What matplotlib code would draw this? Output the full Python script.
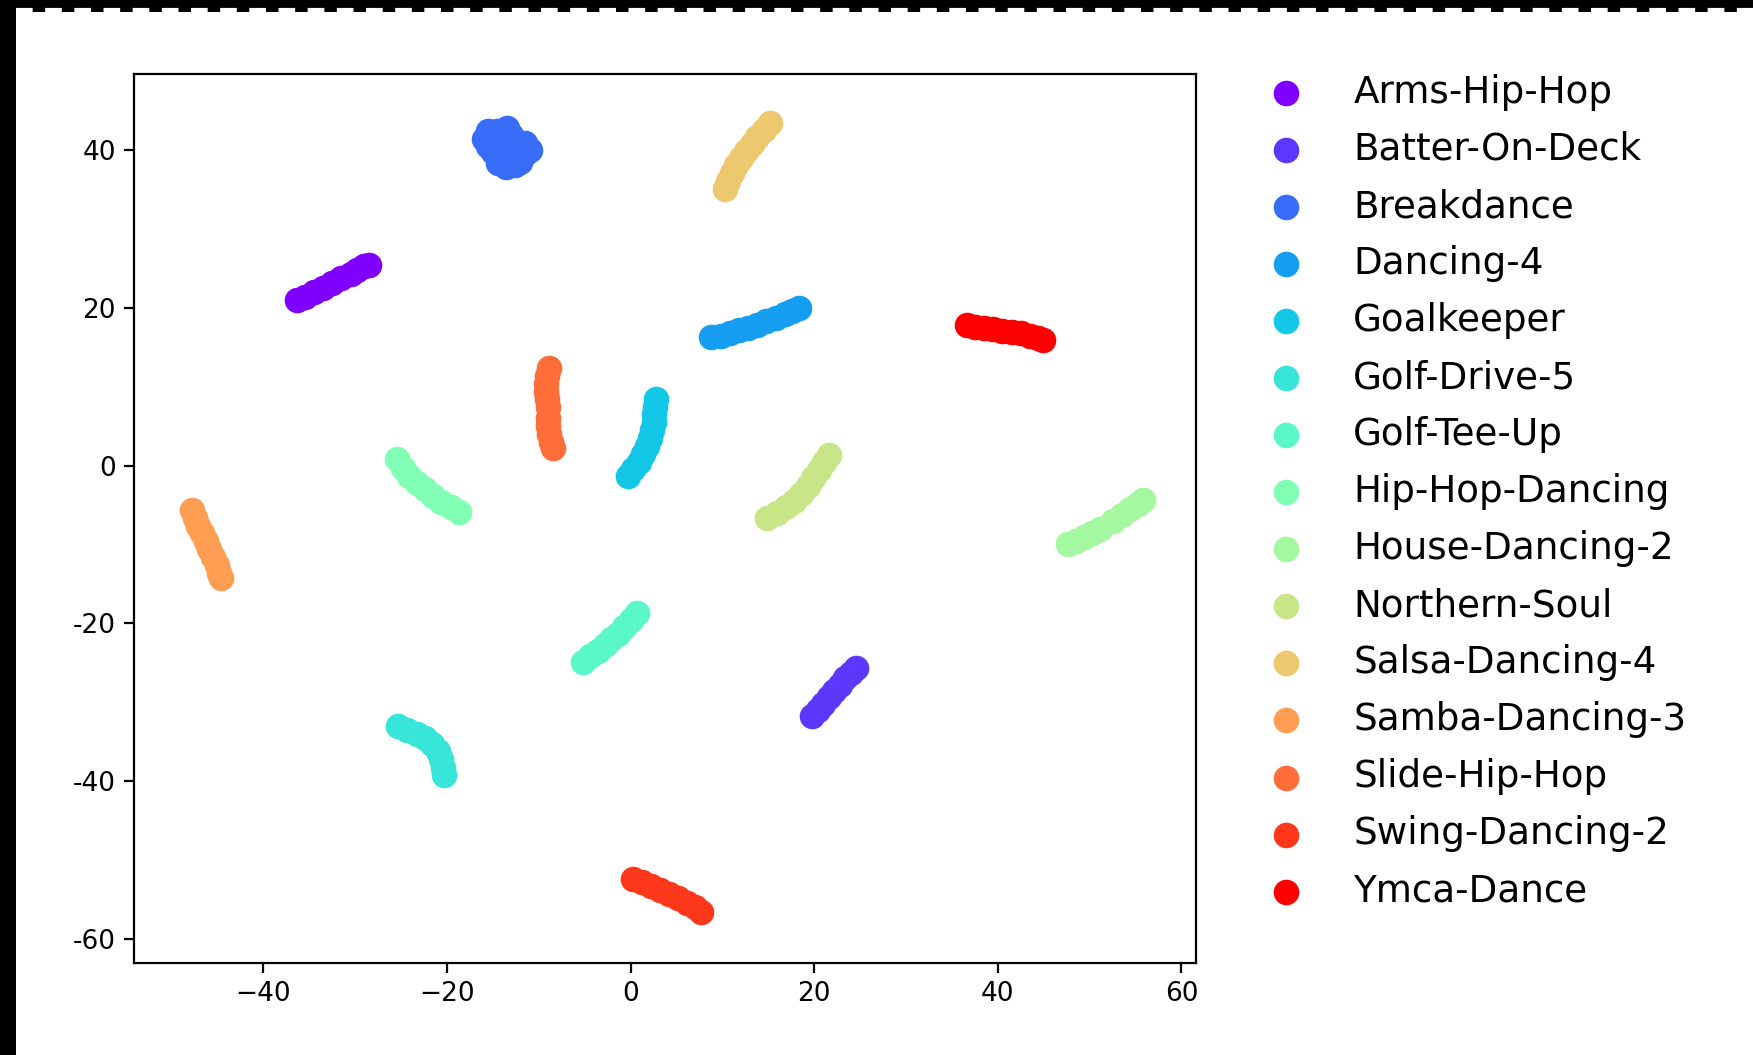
import numpy as np
import matplotlib
matplotlib.use('Agg')
import matplotlib.pyplot as plt
from matplotlib.patches import Rectangle

# --- data: embedded 2-D points per class ---
labels = ['Arms-Hip-Hop', 'Batter-On-Deck', 'Breakdance', 'Dancing-4', 'Goalkeeper',
          'Golf-Drive-5', 'Golf-Tee-Up', 'Hip-Hop-Dancing', 'House-Dancing-2',
          'Northern-Soul', 'Salsa-Dancing-4', 'Samba-Dancing-3', 'Slide-Hip-Hop',
          'Swing-Dancing-2', 'Ymca-Dance']

arms_x = [-36.3, -35.5, -34.5, -33.5, -32.5, -31.5, -30.5, -29.8, -29.0, -28.5]
arms_y = [21.0, 21.4, 22.0, 22.6, 23.2, 23.8, 24.3, 24.8, 25.3, 25.5]

batter_x = [19.8, 20.4, 21.0, 21.6, 22.2, 22.8, 23.4, 24.0, 24.6]
batter_y = [-31.8, -31.0, -30.2, -29.4, -28.6, -27.8, -27.0, -26.3, -25.7]

breakdance_x = [-16.0, -15.5, -15.0, -14.5, -14.0, -13.5, -13.0, -13.0, -12.5, -12.0,
                -11.5, -11.0, -14.5, -15.5, -12.0, -14.0, -13.0, -14.0, -12.5, -15.0,
                -11.5, -13.5, -13.6, -12.6, -14.4]
breakdance_y = [41.5, 42.5, 41.0, 42.5, 40.0, 41.5, 39.0, 42.0, 40.5, 38.5,
                39.5, 40.0, 39.5, 40.5, 41.0, 38.5, 40.5, 41.0, 39.5, 39.8,
                41.0, 42.8, 37.9, 38.1, 38.4]

dancing4_x = [8.8, 9.8, 10.8, 11.8, 12.8, 13.8, 14.8, 15.8, 16.8, 17.6, 18.3]
dancing4_y = [16.3, 16.5, 16.8, 17.2, 17.5, 17.9, 18.3, 18.7, 19.2, 19.6, 20.0]

goalkeeper_x = [-0.3, 0.3, 0.9, 1.4, 1.8, 2.1, 2.3, 2.5, 2.6, 2.7, 2.8]
goalkeeper_y = [-1.3, -0.4, 0.5, 1.5, 2.5, 3.5, 4.5, 5.5, 6.5, 7.5, 8.5]

golfdrive_x = [-25.3, -24.3, -23.3, -22.4, -21.6, -21.0, -20.6, -20.4, -20.3]
golfdrive_y = [-33.0, -33.5, -34.0, -34.6, -35.3, -36.2, -37.2, -38.3, -39.3]

golftee_x = [-5.2, -4.4, -3.6, -2.8, -2.1, -1.4, -0.7, 0.0, 0.7]
golftee_y = [-24.9, -24.2, -23.5, -22.7, -22.0, -21.3, -20.5, -19.6, -18.7]

hiphop_x = [-25.4, -24.8, -24.1, -23.3, -22.4, -21.5, -20.6, -19.6, -18.7]
hiphop_y = [0.8, -0.3, -1.3, -2.2, -3.0, -3.8, -4.6, -5.3, -5.9]

house_x = [47.6, 48.5, 49.4, 50.3, 51.1, 52.6, 53.5, 54.4, 55.3, 55.8]
house_y = [-10.0, -9.6, -9.1, -8.6, -8.0, -7.0, -6.3, -5.5, -4.8, -4.4]

northern_x = [14.9, 15.9, 16.9, 17.8, 18.6, 19.3, 19.9, 20.5, 21.1, 21.6]
northern_y = [-6.6, -6.0, -5.3, -4.5, -3.6, -2.6, -1.6, -0.5, 0.5, 1.4]

salsa_x = [10.3, 10.6, 11.0, 11.5, 12.0, 12.6, 13.2, 13.8, 14.5, 15.2]
salsa_y = [35.1, 36.1, 37.1, 38.1, 39.0, 39.9, 40.8, 41.7, 42.6, 43.5]

samba_x = [-47.8, -47.5, -47.1, -46.7, -46.3, -45.9, -45.5, -45.1, -44.8, -44.6]
samba_y = [-5.6, -6.6, -7.6, -8.6, -9.6, -10.6, -11.6, -12.6, -13.6, -14.3]

slide_x = [-8.9, -9.1, -9.2, -9.2, -9.1, -9.0, -9.0, -9.0, -8.9, -8.7, -8.5]
slide_y = [12.4, 11.4, 10.4, 9.4, 8.4, 7.4, 6.0, 5.0, 4.0, 3.0, 2.3]

swing_x = [0.3, 1.2, 2.2, 3.2, 4.2, 5.2, 6.2, 7.0, 7.7]
swing_y = [-52.4, -52.8, -53.3, -53.8, -54.3, -54.9, -55.5, -56.0, -56.6]

ymca_x = [36.6, 37.5, 38.5, 39.5, 40.5, 41.5, 42.5, 43.5, 44.4, 44.9]
ymca_y = [17.8, 17.6, 17.5, 17.3, 17.1, 17.0, 16.8, 16.5, 16.2, 16.0]

xs = [arms_x, batter_x, breakdance_x, dancing4_x, goalkeeper_x, golfdrive_x, golftee_x,
      hiphop_x, house_x, northern_x, salsa_x, samba_x, slide_x, swing_x, ymca_x]
ys = [arms_y, batter_y, breakdance_y, dancing4_y, goalkeeper_y, golfdrive_y, golftee_y,
      hiphop_y, house_y, northern_y, salsa_y, samba_y, slide_y, swing_y, ymca_y]

yticks = [40, 20, 0, -20, -40, -60]
ytick_labels = ['40', '20', '0', '-20', '-40', '-60']

# --- figure ---
fig = plt.figure(figsize=(17.53, 10.55), dpi=100, facecolor='black')
# white canvas inside the black frame
fig.patches.append(Rectangle((16 / 1753, 0), 1, 1 - 12 / 1055, transform=fig.transFigure,
                             facecolor='white', edgecolor='none', zorder=-10))
fig.lines.append(plt.Line2D([16 / 1753, 1], [1 - 10 / 1055, 1 - 10 / 1055], transform=fig.transFigure,
                            color='white', lw=3, ls=(0, (4, 3))))

ax = fig.add_axes([0.0764, 0.0872, 0.6059, 0.8427])

colors = plt.cm.rainbow(np.linspace(0, 1, len(labels)))
for x, y, c, lab in zip(xs, ys, colors, labels):
    ax.scatter(x, y, s=340, color=c, label=lab, linewidths=0)

ax.set_xlim(-54.1, 61.6)
ax.set_ylim(-63.1, 49.7)
ax.set_xticks([-40, -20, 0, 20, 40, 60])
ax.set_yticks(yticks)
ax.set_yticklabels(ytick_labels)
ax.tick_params(labelsize=19, length=7, width=1.6, pad=6)
for sp in ax.spines.values():
    sp.set_linewidth(1.6)

ax.legend(loc='upper left', bbox_to_anchor=(0.704, 0.944), bbox_transform=fig.transFigure,
          frameon=False, fontsize=26.8, borderaxespad=0, handletextpad=0.8,
          labelspacing=0.538, scatterpoints=1)

fig.savefig('out.png', dpi=100, facecolor=fig.get_facecolor())
